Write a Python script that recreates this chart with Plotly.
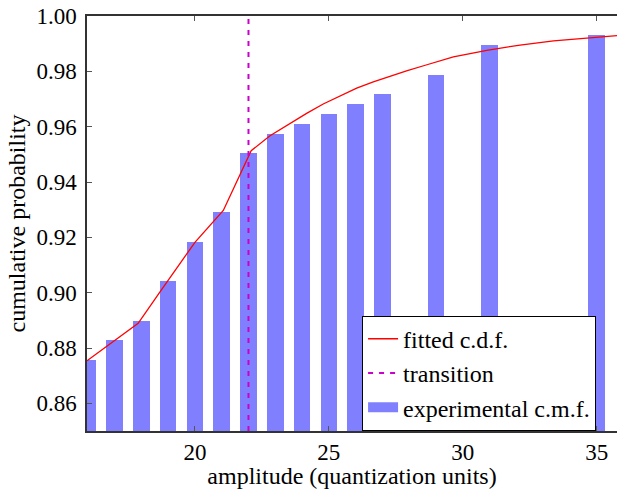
import plotly.graph_objects as go

# experimental c.m.f. (bars)
amplitude = [16, 17, 18, 19, 20, 21, 22, 23, 24, 25, 26, 27, 29, 31, 35]
cmf = [0.8756, 0.8829, 0.8897, 0.9042, 0.9182, 0.9291, 0.9504, 0.9572,
       0.9610, 0.9646, 0.9682, 0.9718, 0.9787, 0.9895, 0.9931]

# fitted c.d.f. (curve)
fit_x = [15.97, 17.0, 17.88, 18.69, 20.0, 21.06, 22.1, 22.79, 23.54, 24.17, 24.79,
         25.41, 26.04, 26.66, 27.28, 27.9, 28.6, 29.65, 30.9, 32.14, 33.39, 34.63, 35.76]
fit_y = [0.8754, 0.8827, 0.8889, 0.9002, 0.9182, 0.9297, 0.9513, 0.9566, 0.9612, 0.9648, 0.9682,
         0.9711, 0.9739, 0.9762, 0.9783, 0.9802, 0.9822, 0.9852, 0.9876, 0.9895, 0.9910, 0.9921, 0.9929]

# transition
transition_x = 22
y_range = [0.85, 1.00]
x_range = [15.97, 35.76]

y_ticks = [0.86, 0.88, 0.90, 0.92, 0.94, 0.96, 0.98, 1.00]
x_ticks = [20, 25, 30, 35]

FONT = "Liberation Serif, Times New Roman, serif"
BAR_COLOR = "#8080ff"

fig = go.Figure()
fig.add_trace(go.Bar(x=amplitude, y=cmf, width=0.62, marker=dict(color=BAR_COLOR, line=dict(width=0)),
                     name="experimental c.m.f.", showlegend=False))
fig.add_trace(go.Scatter(x=fit_x, y=fit_y, mode="lines", line=dict(color="#ff0000", width=1.3),
                         name="fitted c.d.f."))
fig.add_trace(go.Scatter(x=[transition_x, transition_x], y=y_range, mode="lines",
                         line=dict(color="#cc00cc", width=2, dash="5px,6px"), name="transition"))
# legend entry for the bars (wide bar swatch)
fig.add_trace(go.Scatter(x=[None], y=[None], mode="lines", line=dict(color=BAR_COLOR, width=13),
                         name="experimental c.m.f."))

fig.update_layout(
    width=617, height=489,
    margin=dict(l=87, r=0, t=16, b=58),
    paper_bgcolor="white", plot_bgcolor="white",
    font=dict(family=FONT, size=24, color="black"),
    bargap=0,
    showlegend=True,
    legend=dict(x=0.519, y=0.278, xanchor="left", yanchor="top",
                bgcolor="white", bordercolor="black", borderwidth=1,
                font=dict(family=FONT, size=24, color="black"), itemwidth=30,
                tracegroupgap=0),
    xaxis=dict(range=x_range, tickvals=x_ticks, ticks="inside", ticklen=5, tickcolor="#555",
               showline=True, linecolor="#333", linewidth=1.5, mirror="ticks",
               showgrid=False, zeroline=False,
               title=dict(text="amplitude (quantization units)", standoff=2,
                          font=dict(family=FONT, size=24, color="black")),
               tickfont=dict(family=FONT, size=23, color="black")),
    yaxis=dict(range=y_range, tickvals=y_ticks, tickformat=".2f", ticks="inside", ticklen=5,
               tickcolor="#555", showline=True, linecolor="#333", linewidth=1.5,
               showgrid=False, zeroline=False, ticklabelstandoff=4,
               title=dict(text="cumulative probability", standoff=4,
                          font=dict(family=FONT, size=24, color="black")),
               tickfont=dict(family=FONT, size=23, color="black")),
)

fig.write_html("out.html")
